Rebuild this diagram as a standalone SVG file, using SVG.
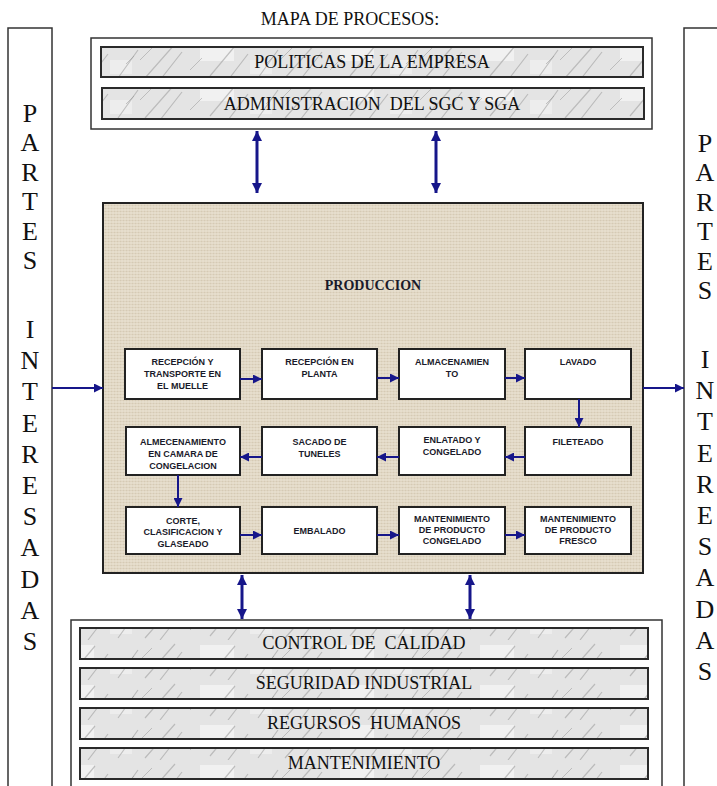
<svg xmlns="http://www.w3.org/2000/svg" width="717" height="786" viewBox="0 0 717 786">
<style>
.frame{fill:#fff;stroke:#333;stroke-width:1.5}
.marble{fill:url(#marble);stroke:#2a2a2a;stroke-width:2}
.big{font-family:"Liberation Serif","Times New Roman",serif;font-size:18px;fill:#111;text-anchor:middle}
.side{font-family:"Liberation Serif","Times New Roman",serif;font-size:26px;fill:#111;text-anchor:middle}
.pbox{fill:#fff;stroke:#222;stroke-width:2}
.ptxt{font-family:"Liberation Sans",Arial,sans-serif;font-size:9px;font-weight:bold;fill:#1a1a2a;text-anchor:middle}
.conn{stroke:#16168a;stroke-width:2;fill:none;marker-end:url(#ah)}
.dbl{stroke:#16168a;stroke-width:3;fill:none;marker-start:url(#ahb);marker-end:url(#ahb)}
</style>
<defs>
<pattern id="marble" width="140" height="40" patternUnits="userSpaceOnUse">
<rect width="140" height="40" fill="#e4e4e4"/>
<rect x="60" y="5" width="34" height="16" fill="#f4f4f4" opacity="0.8"/>
<rect x="110" y="20" width="22" height="14" fill="#f2f2f2" opacity="0.7"/>
<path d="M5 38 L35 4 M20 40 L42 12 M70 36 L95 6 M88 40 L108 14 M118 38 L138 10" stroke="#aaaaaa" stroke-width="1.2" opacity="0.7"/>
<path d="M50 30 L62 18 M0 20 L12 8 M126 24 L134 16" stroke="#909090" stroke-width="0.8" opacity="0.6"/>
</pattern>
<pattern id="linen" width="6" height="6" patternUnits="userSpaceOnUse">
<rect width="6" height="6" fill="#e2d9c6"/>
<path d="M0 1.5 H6 M0 4.5 H6" stroke="#d2c7b0" stroke-width="0.8"/>
<path d="M2 0 V6 M5 0 V6" stroke="#eee7d9" stroke-width="0.7"/>
</pattern>
<marker id="ah" viewBox="0 0 10 10" refX="10" refY="5" markerWidth="9" markerHeight="9" markerUnits="userSpaceOnUse" orient="auto">
<path d="M0 0 L10 5 L0 10 Z" fill="#16168a"/>
</marker>
<marker id="ahb" viewBox="0 0 10 10" refX="10" refY="5" markerWidth="10" markerHeight="11" markerUnits="userSpaceOnUse" orient="auto-start-reverse">
<path d="M0 0 L10 5 L0 10 Z" fill="#16168a"/>
</marker>
</defs>
<rect width="717" height="786" fill="#fff"/>

<text x="350" y="25" class="big">MAPA DE PROCESOS:</text>

<g id="partes-izq">
<rect x="8" y="28" width="44" height="770" class="frame"/>
<text class="side"><tspan x="30" y="122">P</tspan><tspan x="30" y="151">A</tspan><tspan x="30" y="181">R</tspan><tspan x="30" y="210">T</tspan><tspan x="30" y="240">E</tspan><tspan x="30" y="269">S</tspan><tspan x="30" y="338">I</tspan><tspan x="30" y="369">N</tspan><tspan x="30" y="400">T</tspan><tspan x="30" y="432">E</tspan><tspan x="30" y="463">R</tspan><tspan x="30" y="494">E</tspan><tspan x="30" y="525">S</tspan><tspan x="30" y="556">A</tspan><tspan x="30" y="588">D</tspan><tspan x="30" y="619">A</tspan><tspan x="30" y="650">S</tspan></text>
</g>

<g id="partes-der">
<rect x="684" y="28" width="50" height="770" class="frame"/>
<text class="side"><tspan x="705" y="152">P</tspan><tspan x="705" y="181">A</tspan><tspan x="705" y="211">R</tspan><tspan x="705" y="240">T</tspan><tspan x="705" y="270">E</tspan><tspan x="705" y="299">S</tspan><tspan x="705" y="368">I</tspan><tspan x="705" y="399">N</tspan><tspan x="705" y="430">T</tspan><tspan x="705" y="462">E</tspan><tspan x="705" y="493">R</tspan><tspan x="705" y="524">E</tspan><tspan x="705" y="555">S</tspan><tspan x="705" y="586">A</tspan><tspan x="705" y="618">D</tspan><tspan x="705" y="649">A</tspan><tspan x="705" y="680">S</tspan></text>
</g>

<g id="estrategicos">
<rect x="91" y="38" width="561" height="91" class="frame"/>
<g id="politicas">
<rect x="101" y="47" width="542" height="30" class="marble"/>
<text x="372" y="68" class="big">POLITICAS DE LA EMPRESA</text>
</g>
<g id="administracion">
<rect x="102" y="88" width="542" height="31" class="marble"/>
<text x="372" y="110" class="big" xml:space="preserve">ADMINISTRACION  DEL SGC Y SGA</text>
</g>
</g>

<g id="produccion">
<rect x="103" y="203" width="540" height="370" fill="url(#linen)" stroke="#222" stroke-width="2"/>
<text x="373" y="290" style="font-family:'Liberation Serif','Times New Roman',serif;font-size:14px;font-weight:bold;fill:#1a1a2a;text-anchor:middle">PRODUCCION</text>
</g>

<g id="p1"><rect x="125" y="349" width="115" height="50" class="pbox"/><text class="ptxt"><tspan x="182.5" y="365">RECEPCIÓN Y</tspan><tspan x="182.5" y="377">TRANSPORTE EN</tspan><tspan x="182.5" y="389">EL MUELLE</tspan></text></g>
<g id="p2"><rect x="262" y="349" width="115" height="50" class="pbox"/><text class="ptxt"><tspan x="319.5" y="365">RECEPCIÓN EN</tspan><tspan x="319.5" y="377">PLANTA</tspan></text></g>
<g id="p3"><rect x="399" y="349" width="106" height="50" class="pbox"/><text class="ptxt"><tspan x="452" y="365">ALMACENAMIEN</tspan><tspan x="452" y="377">TO</tspan></text></g>
<g id="p4"><rect x="525" y="349" width="106" height="50" class="pbox"/><text class="ptxt"><tspan x="578" y="365">LAVADO</tspan></text></g>
<g id="p5"><rect x="126" y="427" width="114" height="48" class="pbox"/><text class="ptxt"><tspan x="183" y="445">ALMECENAMIENTO</tspan><tspan x="183" y="457">EN CAMARA DE</tspan><tspan x="183" y="469">CONGELACION</tspan></text></g>
<g id="p6"><rect x="262" y="427" width="115" height="48" class="pbox"/><text class="ptxt"><tspan x="319.5" y="445">SACADO DE</tspan><tspan x="319.5" y="457">TUNELES</tspan></text></g>
<g id="p7"><rect x="399" y="427" width="106" height="48" class="pbox"/><text class="ptxt"><tspan x="452" y="443">ENLATADO Y</tspan><tspan x="452" y="455">CONGELADO</tspan></text></g>
<g id="p8"><rect x="525" y="427" width="106" height="48" class="pbox"/><text class="ptxt"><tspan x="578" y="445">FILETEADO</tspan></text></g>
<g id="p9"><rect x="126" y="507" width="114" height="47" class="pbox"/><text class="ptxt"><tspan x="183" y="524">CORTE,</tspan><tspan x="183" y="535">CLASIFICACION Y</tspan><tspan x="183" y="547">GLASEADO</tspan></text></g>
<g id="p10"><rect x="262" y="507" width="115" height="47" class="pbox"/><text class="ptxt"><tspan x="319.5" y="534">EMBALADO</tspan></text></g>
<g id="p11"><rect x="399" y="507" width="106" height="47" class="pbox"/><text class="ptxt"><tspan x="452" y="522">MANTENIMIENTO</tspan><tspan x="452" y="533">DE PRODUCTO</tspan><tspan x="452" y="544">CONGELADO</tspan></text></g>
<g id="p12"><rect x="525" y="507" width="106" height="47" class="pbox"/><text class="ptxt"><tspan x="578" y="522">MANTENIMIENTO</tspan><tspan x="578" y="533">DE PRODUCTO</tspan><tspan x="578" y="544">FRESCO</tspan></text></g>

<g id="apoyo">
<rect x="71" y="620" width="591" height="180" class="frame"/>
<g id="calidad"><rect x="80" y="628" width="568" height="31" class="marble"/><text x="364" y="649" class="big" xml:space="preserve">CONTROL DE  CALIDAD</text></g>
<g id="seguridad"><rect x="80" y="668" width="568" height="31" class="marble"/><text x="364" y="689" class="big">SEGURIDAD INDUSTRIAL</text></g>
<g id="rrhh"><rect x="80" y="708" width="568" height="31" class="marble"/><text x="364" y="729" class="big" xml:space="preserve">REGURSOS  HUMANOS</text></g>
<g id="mantenimiento"><rect x="80" y="748" width="568" height="31" class="marble"/><text x="364" y="769" class="big">MANTENIMIENTO</text></g>
</g>

<g id="connectors">
<line x1="257" y1="193" x2="257" y2="131" class="dbl"/>
<line x1="436" y1="193" x2="436" y2="131" class="dbl"/>
<line x1="242" y1="575" x2="242" y2="619" class="dbl"/>
<line x1="470" y1="575" x2="470" y2="619" class="dbl"/>
<line x1="52" y1="388" x2="103" y2="388" class="conn"/>
<line x1="643" y1="388" x2="684" y2="388" class="conn"/>
<line x1="240" y1="379" x2="262" y2="379" class="conn"/>
<line x1="377" y1="378" x2="399" y2="378" class="conn"/>
<line x1="505" y1="378" x2="525" y2="378" class="conn"/>
<line x1="579" y1="399" x2="579" y2="427" class="conn"/>
<line x1="525" y1="457" x2="505" y2="457" class="conn"/>
<line x1="399" y1="457" x2="377" y2="457" class="conn"/>
<line x1="262" y1="457" x2="240" y2="457" class="conn"/>
<line x1="178" y1="475" x2="178" y2="507" class="conn"/>
<line x1="240" y1="535" x2="262" y2="535" class="conn"/>
<line x1="377" y1="535" x2="399" y2="535" class="conn"/>
<line x1="505" y1="535" x2="525" y2="535" class="conn"/>
</g>
</svg>
